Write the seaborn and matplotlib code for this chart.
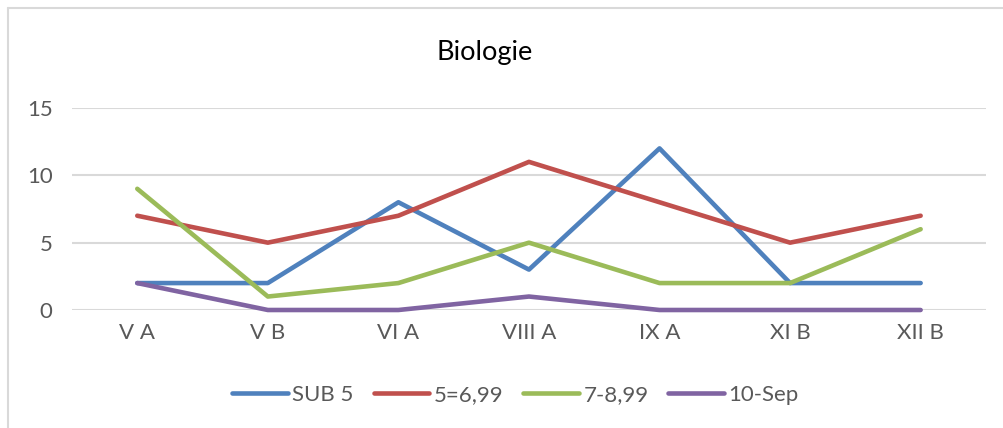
import numpy as np
import pandas as pd
import matplotlib.pyplot as plt
from matplotlib.lines import Line2D
import seaborn as sns

# Data
classes = ["V A", "V B", "VI A", "VIII A", "IX A", "XI B", "XII B"]
sub5 = [2, 2, 8, 3, 12, 2, 2]
grade5_6 = [7, 5, 7, 11, 8, 5, 7]
grade7_8 = [9, 1, 2, 5, 2, 2, 6]
grade10 = [2, 0, 0, 1, 0, 0, 0]
series_names = ["SUB 5", "5=6,99", "7-8,99", "10-Sep"]

df = pd.DataFrame({"Clasa": classes, "SUB 5": sub5, "5=6,99": grade5_6,
                   "7-8,99": grade7_8, "10-Sep": grade10})
long_df = df.melt(id_vars="Clasa", var_name="Serie", value_name="Elevi")
long_df["pos"] = long_df["Clasa"].map({c: i for i, c in enumerate(classes)})

colors = {"SUB 5": "#4F81BD", "5=6,99": "#C0504D", "7-8,99": "#9BBB59", "10-Sep": "#8064A2"}

sns.set_style("white")
plt.rcParams['font.family'] = ['Lato', 'DejaVu Sans']

fig = plt.figure(figsize=(10.04, 4.28), dpi=100)
ax = fig.add_axes([0.0717, 0.2757, 0.9103, 0.472])

sns.lineplot(data=long_df, x="pos", y="Elevi", hue="Serie", hue_order=series_names,
             palette=colors, linewidth=3.3, ax=ax, legend=False, clip_on=False,
             solid_capstyle="round", solid_joinstyle="round")

ax.set_xlim(-0.5, len(classes) - 0.5)
ax.set_ylim(0, 15)
ax.set_yticks([0, 5, 10, 15])
ax.set_xticks(range(len(classes)))
ax.set_xticklabels(classes)
ax.grid(axis="y", color="#D9D9D9", linewidth=1.5)
ax.set_axisbelow(True)
for s in ax.spines.values():
    s.set_visible(False)
ax.tick_params(axis="both", length=0, labelsize=16, colors="#595959")
ax.tick_params(axis="x", pad=9)
ax.tick_params(axis="y", pad=14)
ax.set_xlabel("")
ax.set_ylabel("")

fig.text(0.483, 0.878, "Biologie", ha="center", va="center", fontsize=19.5, color="#000000")

handles = [Line2D([0], [0], color=colors[n], linewidth=3.3, solid_capstyle="round") for n in series_names]
fig.legend(handles, series_names, loc="center", bbox_to_anchor=(0.5135, 0.077), ncol=4,
           frameon=False, fontsize=16, handlelength=2.5, columnspacing=0.9,
           handletextpad=0.2, labelcolor="#595959")

# Light chart-area frame (left and top edges visible)
fig.add_artist(Line2D([0.008, 0.008], [0.0, 0.981], transform=fig.transFigure,
                      color="#D9D9D9", linewidth=1.5))
fig.add_artist(Line2D([0.008, 1.0], [0.981, 0.981], transform=fig.transFigure,
                      color="#D9D9D9", linewidth=1.5))

fig.savefig("out.png", dpi=100, facecolor="white")
